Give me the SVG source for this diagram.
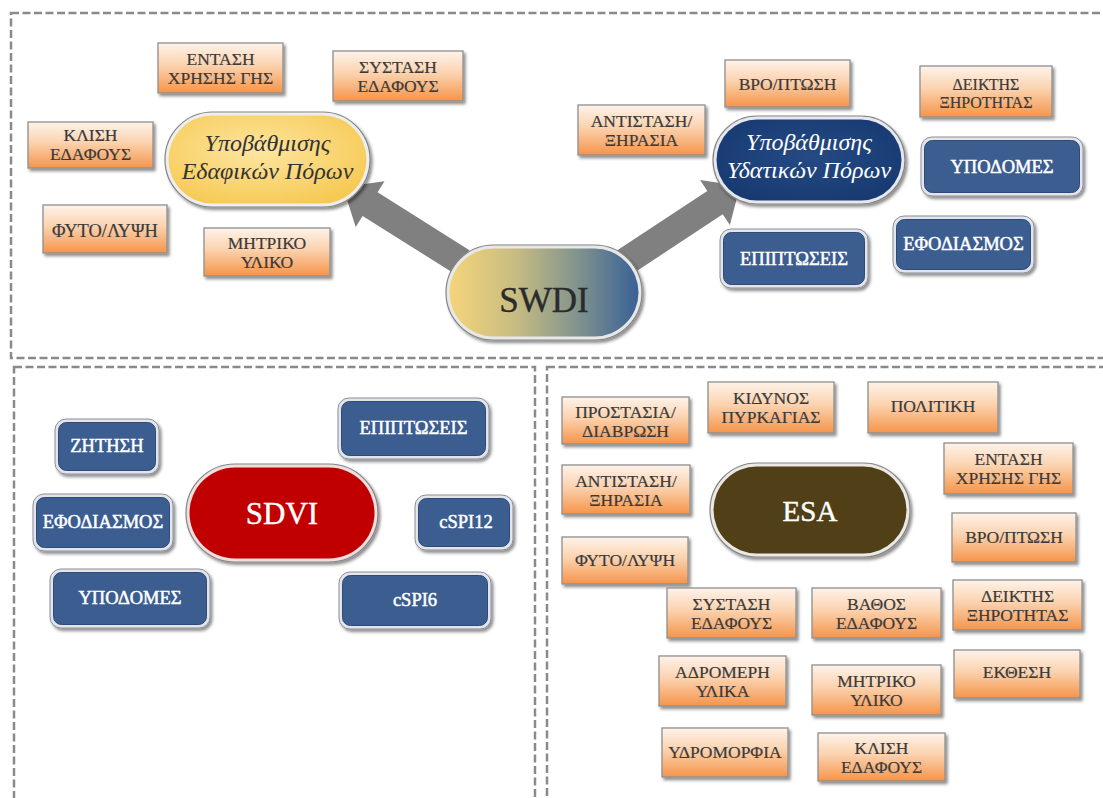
<svg xmlns="http://www.w3.org/2000/svg" width="1103" height="798" viewBox="0 0 1103 798">
<defs>
<linearGradient id="og" x1="0" y1="0" x2="0" y2="1">
<stop offset="0" stop-color="#fef3ea"/><stop offset="0.45" stop-color="#fbd2ae"/><stop offset="1" stop-color="#f5944a"/>
</linearGradient>
<linearGradient id="sg" x1="0" y1="0" x2="1" y2="0">
<stop offset="0" stop-color="#f4d47a"/><stop offset="0.35" stop-color="#c8bc82"/><stop offset="0.65" stop-color="#86978c"/><stop offset="1" stop-color="#3a6197"/>
</linearGradient>
<radialGradient id="yg" cx="0.45" cy="0.4" r="0.65">
<stop offset="0" stop-color="#fde6a0"/><stop offset="1" stop-color="#f6c954"/>
</radialGradient>
<radialGradient id="ng" cx="0.5" cy="0.45" r="0.6">
<stop offset="0" stop-color="#254a84"/><stop offset="1" stop-color="#173a71"/>
</radialGradient>
<filter id="sh" x="-10%" y="-15%" width="130%" height="145%">
<feDropShadow dx="2" dy="2.5" stdDeviation="1.6" flood-color="#000" flood-opacity="0.45"/>
</filter>
</defs>
<style>
.panel{fill:none;stroke:#8a8a8a;stroke-width:2.5;stroke-dasharray:8 3.5}
.ob{fill:url(#og);stroke:#8f8f8f;stroke-width:1.3;filter:url(#sh)}
.ot{font-family:"Liberation Serif","DejaVu Serif",serif;font-size:17.5px;fill:#3a3a3a;stroke:#3a3a3a;stroke-width:0.2;text-anchor:middle}
.bo{fill:#e3e5ea;stroke:#8b9099;stroke-width:1;filter:url(#sh)}
.bi{fill:#3b5d90;stroke:#2d4a78;stroke-width:1}
.bt{font-family:"Liberation Serif","DejaVu Serif",serif;font-size:18.5px;fill:#ffffff;stroke:#ffffff;stroke-width:0.5;text-anchor:middle}
.po{stroke:#858585;stroke-width:1.2;filter:url(#sh)}
.it{font-family:"Liberation Serif","DejaVu Serif",serif;font-style:italic;font-size:24px;text-anchor:middle}
.big{font-family:"Liberation Serif","DejaVu Serif",serif;text-anchor:middle}
.arrow{fill:#808080}
</style>

<g id="panels">
<rect class="panel" x="11" y="13" width="1105" height="345"/>
<rect class="panel" x="14" y="367" width="521" height="500"/>
<rect class="panel" x="547" y="367" width="600" height="500"/>
</g>

<g id="connectors">
<polygon class="arrow" points="469.5,250.2 377.6,192.3 384.5,181.3 343,187 355.7,226.9 362.6,215.9 454.5,273.8"/>
<polygon class="arrow" points="617.3,250.3 707.3,190.9 700.1,180.1 740,186 729.9,225.1 722.7,214.3 632.7,273.7"/>
</g>

<!-- Top panel: soil -->
<g id="t-entasi"><rect class="ob" x="158" y="43" width="125" height="50"/><text class="ot" x="220.5" y="65">ΕΝΤΑΣΗ</text><text class="ot" x="220.5" y="84">ΧΡΗΣΗΣ ΓΗΣ</text></g>
<g id="t-systasi"><rect class="ob" x="333" y="51" width="130" height="50"/><text class="ot" x="398" y="73">ΣΥΣΤΑΣΗ</text><text class="ot" x="398" y="92">ΕΔΑΦΟΥΣ</text></g>
<g id="t-klisi"><rect class="ob" x="28" y="122" width="125" height="46"/><text class="ot" x="90.5" y="141">ΚΛΙΣΗ</text><text class="ot" x="90.5" y="160">ΕΔΑΦΟΥΣ</text></g>
<g id="t-fyto"><rect class="ob" x="43" y="205" width="124" height="48"/><text class="ot" x="105" y="237" style="font-size:18.5px">ΦΥΤΟ/ΛΥΨΗ</text></g>
<g id="t-mitriko"><rect class="ob" x="204" y="228" width="126" height="48"/><text class="ot" x="267" y="249">ΜΗΤΡΙΚΟ</text><text class="ot" x="267" y="268">ΥΛΙΚΟ</text></g>
<g id="t-soil"><rect class="po" x="165" y="112" width="205" height="95" rx="47.5" fill="#eeeeee"/><rect x="168.5" y="115.5" width="198" height="88" rx="44" fill="url(#yg)"/><text class="it" x="267.5" y="151" fill="#333333">Υποβάθμισης</text><text class="it" x="267.5" y="179" fill="#333333">Εδαφικών Πόρων</text></g>

<!-- Top panel: water -->
<g id="t-antistasi"><rect class="ob" x="578" y="105" width="127" height="50"/><text class="ot" x="641.5" y="127">ΑΝΤΙΣΤΑΣΗ/</text><text class="ot" x="641.5" y="146">ΞΗΡΑΣΙΑ</text></g>
<g id="t-vro"><rect class="ob" x="725" y="60" width="125" height="47"/><text class="ot" x="787.5" y="90">ΒΡΟ/ΠΤΩΣΗ</text></g>
<g id="t-deiktis"><rect class="ob" x="920" y="66" width="132" height="51"/><text class="ot" x="986" y="90" style="font-size:16px">ΔΕΙΚΤΗΣ</text><text class="ot" x="986" y="108" style="font-size:16px">ΞΗΡΟΤΗΤΑΣ</text></g>
<g id="t-water"><rect class="po" x="713" y="116" width="192" height="88" rx="44" fill="#e6e8ee"/><rect x="716.5" y="119.5" width="185" height="81" rx="40.5" fill="url(#ng)"/><text class="it" x="809" y="150" fill="#ffffff">Υποβάθμισης</text><text class="it" x="809" y="178" fill="#ffffff">Υδατικών Πόρων</text></g>
<g id="t-ypodomes"><rect class="bo" x="921" y="137" width="162" height="59" rx="11"/><rect class="bi" x="924.5" y="140.5" width="155" height="52" rx="8"/><text class="bt" x="1002" y="173">ΥΠΟΔΟΜΕΣ</text></g>
<g id="t-efodiasmos"><rect class="bo" x="893" y="216" width="141" height="57" rx="11"/><rect class="bi" x="896.5" y="219.5" width="134" height="50" rx="8"/><text class="bt" x="963.5" y="250">ΕΦΟΔΙΑΣΜΟΣ</text></g>
<g id="t-epiptoseis"><rect class="bo" x="720" y="229" width="148" height="59" rx="11"/><rect class="bi" x="723.5" y="232.5" width="141" height="52" rx="8"/><text class="bt" x="794" y="265">ΕΠΙΠΤΩΣΕΙΣ</text></g>

<g id="swdi"><rect class="po" x="446" y="245" width="196" height="95" rx="47.5" fill="#e8e8e8"/><rect x="449.5" y="248.5" width="189" height="88" rx="44" fill="url(#sg)"/><text class="big" x="544" y="312" style="font-size:35px;stroke:#2b2b2b;stroke-width:0.4" fill="#2b2b2b">SWDI</text></g>

<!-- Bottom-left: SDVI -->
<g id="l-zitisi"><rect class="bo" x="55" y="419" width="104" height="55" rx="11"/><rect class="bi" x="58.5" y="422.5" width="97" height="48" rx="8"/><text class="bt" x="107" y="452">ΖΗΤΗΣΗ</text></g>
<g id="l-efodiasmos"><rect class="bo" x="33" y="494" width="140" height="57" rx="11"/><rect class="bi" x="36.5" y="497.5" width="133" height="50" rx="8"/><text class="bt" x="103" y="528">ΕΦΟΔΙΑΣΜΟΣ</text></g>
<g id="l-ypodomes"><rect class="bo" x="50" y="569" width="160" height="59" rx="11"/><rect class="bi" x="53.5" y="572.5" width="153" height="52" rx="8"/><text class="bt" x="130" y="604">ΥΠΟΔΟΜΕΣ</text></g>
<g id="l-epiptoseis"><rect class="bo" x="338" y="398" width="151" height="61" rx="11"/><rect class="bi" x="341.5" y="401.5" width="144" height="54" rx="8"/><text class="bt" x="413.5" y="434">ΕΠΙΠΤΩΣΕΙΣ</text></g>
<g id="l-cspi12"><rect class="bo" x="415" y="495" width="98" height="55" rx="11"/><rect class="bi" x="418.5" y="498.5" width="91" height="48" rx="8"/><text class="bt" x="466" y="528">cSPI12</text></g>
<g id="l-cspi6"><rect class="bo" x="339" y="572" width="152" height="57" rx="11"/><rect class="bi" x="342.5" y="575.5" width="145" height="50" rx="8"/><text class="bt" x="415" y="606">cSPI6</text></g>
<g id="sdvi"><rect class="po" x="186" y="464" width="192" height="98" rx="49" fill="#f1dede"/><rect x="189.5" y="467.5" width="185" height="91" rx="45.5" fill="#c00000"/><text class="big" x="282" y="524" style="font-size:31px;stroke:#ffffff;stroke-width:0.4" fill="#ffffff">SDVI</text></g>

<!-- Bottom-right: ESA -->
<g id="r-prostasia"><rect class="ob" x="562" y="397" width="127" height="47"/><text class="ot" x="625.5" y="418">ΠΡΟΣΤΑΣΙΑ/</text><text class="ot" x="625.5" y="437">ΔΙΑΒΡΩΣΗ</text></g>
<g id="r-kindynos"><rect class="ob" x="708" y="382" width="126" height="51"/><text class="ot" x="771" y="404">ΚΙΔΥΝΟΣ</text><text class="ot" x="771" y="423">ΠΥΡΚΑΓΙΑΣ</text></g>
<g id="r-politiki"><rect class="ob" x="868" y="382" width="130" height="51"/><text class="ot" x="933" y="412">ΠΟΛΙΤΙΚΗ</text></g>
<g id="r-entasi"><rect class="ob" x="944" y="443" width="129" height="51"/><text class="ot" x="1008.5" y="465">ΕΝΤΑΣΗ</text><text class="ot" x="1008.5" y="484">ΧΡΗΣΗΣ ΓΗΣ</text></g>
<g id="r-antistasi"><rect class="ob" x="562" y="465" width="128" height="49"/><text class="ot" x="626" y="487">ΑΝΤΙΣΤΑΣΗ/</text><text class="ot" x="626" y="506">ΞΗΡΑΣΙΑ</text></g>
<g id="r-vro"><rect class="ob" x="952" y="513" width="124" height="49"/><text class="ot" x="1014" y="543">ΒΡΟ/ΠΤΩΣΗ</text></g>
<g id="r-fyto"><rect class="ob" x="562" y="537" width="126" height="47"/><text class="ot" x="625" y="566">ΦΥΤΟ/ΛΥΨΗ</text></g>
<g id="r-systasi"><rect class="ob" x="667" y="588" width="129" height="50"/><text class="ot" x="731.5" y="610">ΣΥΣΤΑΣΗ</text><text class="ot" x="731.5" y="629">ΕΔΑΦΟΥΣ</text></g>
<g id="r-vathos"><rect class="ob" x="812" y="588" width="129" height="50"/><text class="ot" x="876.5" y="610">ΒΑΘΟΣ</text><text class="ot" x="876.5" y="629">ΕΔΑΦΟΥΣ</text></g>
<g id="r-deiktis"><rect class="ob" x="953" y="580" width="129" height="50"/><text class="ot" x="1017.5" y="602">ΔΕΙΚΤΗΣ</text><text class="ot" x="1017.5" y="621">ΞΗΡΟΤΗΤΑΣ</text></g>
<g id="r-adromeri"><rect class="ob" x="659" y="656" width="127" height="50"/><text class="ot" x="722.5" y="678">ΑΔΡΟΜΕΡΗ</text><text class="ot" x="722.5" y="697">ΥΛΙΚΑ</text></g>
<g id="r-mitriko"><rect class="ob" x="812" y="665" width="129" height="50"/><text class="ot" x="876.5" y="687">ΜΗΤΡΙΚΟ</text><text class="ot" x="876.5" y="706">ΥΛΙΚΟ</text></g>
<g id="r-ekthesi"><rect class="ob" x="954" y="650" width="126" height="48"/><text class="ot" x="1017" y="678">ΕΚΘΕΣΗ</text></g>
<g id="r-ydromorfia"><rect class="ob" x="662" y="728" width="126" height="49"/><text class="ot" x="725" y="758">ΥΔΡΟΜΟΡΦΙΑ</text></g>
<g id="r-klisi"><rect class="ob" x="818" y="733" width="127" height="48"/><text class="ot" x="881.5" y="754">ΚΛΙΣΗ</text><text class="ot" x="881.5" y="773">ΕΔΑΦΟΥΣ</text></g>
<g id="esa"><rect class="po" x="710" y="463" width="200" height="94" rx="47" fill="#ebe9e4"/><rect x="713.5" y="466.5" width="193" height="87" rx="43.5" fill="#513f18"/><text class="big" x="810" y="521" style="font-size:29px;stroke:#ffffff;stroke-width:0.4" fill="#ffffff">ESA</text></g>
</svg>
